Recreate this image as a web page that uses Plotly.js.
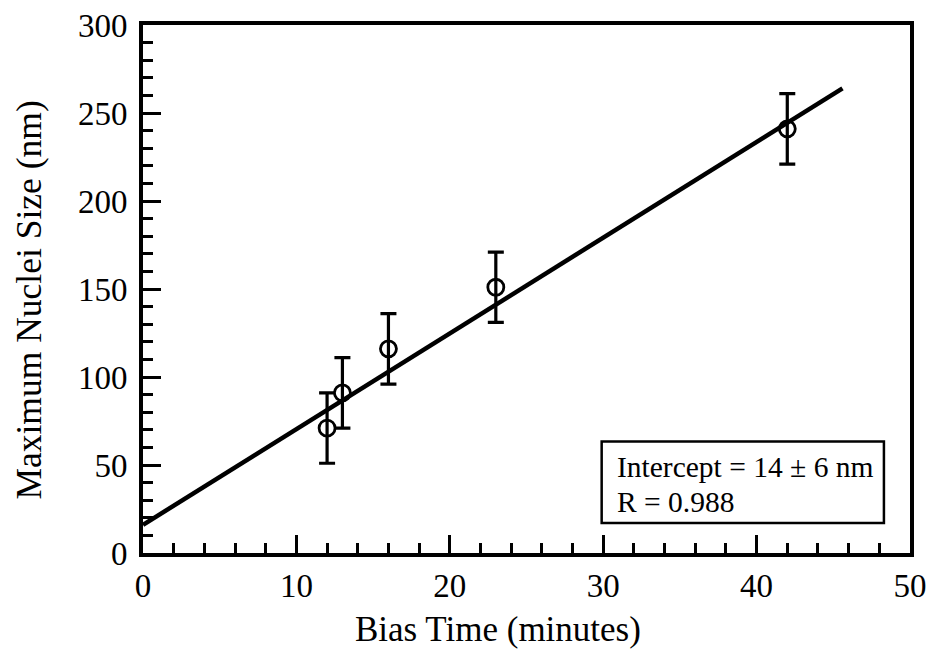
<!DOCTYPE html>
<html>
<head>
<meta charset="utf-8">
<script src="https://cdn.plot.ly/plotly-3.0.1.min.js"></script>
<style>html,body{margin:0;padding:0;background:#fff;}#chart{width:927px;height:649px;}</style>
</head>
<body>
<div id="chart"></div>
<script>
// Data
const biasTime = [12, 13, 16, 23, 42];          // minutes
const nucleiSize = [71, 91, 116, 151, 241];     // nm
const sizeError = [20, 20, 20, 20, 20];         // nm
const fitX = [0, 45.6];
const fitY = [16, 264];
const xTicks = [0, 10, 20, 30, 40, 50];
const yTicks = [0, 50, 100, 150, 200, 250, 300];
const boxLines = ["Intercept = 14 \u00b1 6 nm", "R = 0.988"];

const FONT = "Liberation Serif, Times New Roman, serif";

const traces = [
  {
    x: fitX, y: fitY, mode: "lines", type: "scatter",
    line: {color: "#000", width: 4.5}, hoverinfo: "skip", showlegend: false
  },
  {
    x: biasTime, y: nucleiSize, mode: "markers", type: "scatter",
    marker: {symbol: "circle-open", size: 16, color: "#000", line: {width: 2.8, color: "#000"}},
    error_y: {type: "data", array: sizeError, visible: true, color: "#000", thickness: 3.2, width: 8},
    showlegend: false
  }
];

const axisCommon = {
  showgrid: false, zeroline: false, showline: true, linecolor: "#000", linewidth: 4,
  mirror: true, ticks: "inside", ticklen: 18, tickwidth: 3, tickcolor: "#000",
  tickfont: {family: FONT, size: 33, color: "#000"}
};

const layout = {
  width: 927, height: 649,
  margin: {l: 143, r: 17, t: 25, b: 96},
  paper_bgcolor: "#fff", plot_bgcolor: "#fff",
  showlegend: false,
  xaxis: Object.assign({}, axisCommon, {
    range: [0, 50], tickvals: xTicks, ticktext: xTicks.map(String),
    minor: {dtick: 2, ticks: "inside", ticklen: 10, tickwidth: 3, tickcolor: "#000", showgrid: false},
    title: {text: ""}
  }),
  yaxis: Object.assign({}, axisCommon, {
    range: [0, 300], tickvals: yTicks, ticktext: yTicks.map(String),
    ticklabelstandoff: 5,
    minor: {dtick: 10, ticks: "inside", ticklen: 10, tickwidth: 3, tickcolor: "#000", showgrid: false},
    title: {text: ""}
  }),
  shapes: [
    {type: "rect", xref: "paper", yref: "paper", x0: 0.598, x1: 0.966, y0: 0.057, y1: 0.211,
     line: {color: "#000", width: 2.5}, fillcolor: "rgba(0,0,0,0)"}
  ],
  annotations: [
    {xref: "paper", yref: "paper", x: 0.4628, y: -0.145, xanchor: "center", yanchor: "middle",
     text: "Bias Time (minutes)", showarrow: false, font: {family: FONT, size: 35, color: "#000"}},
    {xref: "paper", yref: "paper", x: -0.148, y: 0.479, xanchor: "center", yanchor: "middle",
     text: "Maximum Nuclei Size (nm)", textangle: -90, showarrow: false,
     font: {family: FONT, size: 35.5, color: "#000"}},
    {xref: "paper", yref: "paper", x: 0.615, y: 0.162, xanchor: "left", yanchor: "middle",
     text: boxLines[0], showarrow: false, font: {family: FONT, size: 29.5, color: "#000"}},
    {xref: "paper", yref: "paper", x: 0.615, y: 0.097, xanchor: "left", yanchor: "middle",
     text: boxLines[1], showarrow: false, font: {family: FONT, size: 29.5, color: "#000"}}
  ]
};

Plotly.newPlot("chart", traces, layout, {displayModeBar: false, staticPlot: true});
</script>
</body>
</html>
